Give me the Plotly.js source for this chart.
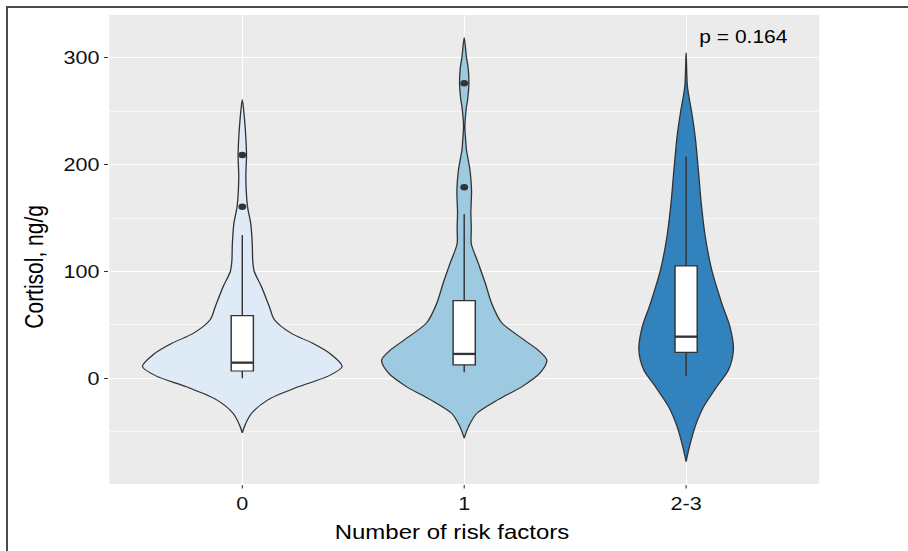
<!DOCTYPE html>
<html>
<head>
<meta charset="utf-8">
<script src="https://cdn.plot.ly/plotly-3.0.1.min.js"></script>
<style>
  html, body { margin: 0; padding: 0; background: #ffffff; overflow: hidden; }
  #wrap { position: relative; width: 908px; height: 551px; overflow: hidden; }
  /* figure is laid out narrower and stretched horizontally to fill the frame */
  #chart { position: absolute; left: 0; top: 0; width: 757px; height: 551px;
           transform: scaleX(1.1995); transform-origin: 0 0; }
  #frame { position: absolute; left: 6px; top: 6px; right: -4px; bottom: -4px;
           border-top: 2px solid #4a4a4a; border-left: 2px solid #4a4a4a;
           pointer-events: none; }
</style>
</head>
<body>
<div id="wrap">
  <div id="chart"></div>
  <div id="frame"></div>
</div>
<script>
// Groups on the x axis
const categories = ['0', '1', '2-3'];
const positions = [0, 1, 2];
const fills = ['#DEEBF7', '#9ECAE1', '#3182BD'];

// Violin outlines: cortisol level and half-width of the density (x units)
const levels0 = [261, 245, 225, 209, 190, 175, 160, 145, 125, 110, 100, 86, 67, 55, 42, 33, 23, 11, 2, -8, -20, -33, -43, -51];
const halfWidth0 = [0, 0.009, 0.016, 0.019, 0.016, 0.018, 0.024, 0.038, 0.045, 0.047, 0.054, 0.086, 0.122, 0.144, 0.221, 0.315, 0.396, 0.45, 0.387, 0.252, 0.117, 0.041, 0.014, 0];

const levels1 = [319, 301, 290, 276, 262, 254, 236, 222, 214, 195, 176, 155, 140, 126, 108, 89, 70, 52, 36, 27, 17, 5, -8, -20, -33, -45, -56];
const halfWidth1 = [0, 0.010, 0.018, 0.021, 0.016, 0.010, 0.003, 0.007, 0.010, 0.026, 0.033, 0.030, 0.032, 0.032, 0.063, 0.095, 0.124, 0.169, 0.270, 0.329, 0.372, 0.342, 0.259, 0.153, 0.056, 0.020, 0];

const levels2 = [305, 273, 248, 226, 195, 164, 133, 101, 70, 48, 27, 8, -8, -27, -45, -64, -78];
const halfWidth2 = [0, 0.006, 0.026, 0.041, 0.055, 0.068, 0.086, 0.116, 0.161, 0.198, 0.213, 0.191, 0.138, 0.078, 0.041, 0.015, 0];

// Box plot statistics per group
const q1 = [6.8, 12.5, 24.3];
const median = [14.6, 22.8, 39.0];
const q3 = [58.6, 72.7, 105.2];
const lowerWhisker = [0.0, 5.6, 2.2];
const upperWhisker = [134.2, 153.9, 207.5];

// Outlying observations
const outlierGroup = [0, 0, 1, 1];
const outlierValue = [209.1, 160.7, 276.3, 178.8];

const pLabel = 'p = 0.164';
const xTitle = 'Number of risk factors';
const yTitle = 'Cortisol, ng/g';

const yRange = [-99.0, 340.2];
const boxWidth = 0.1;
const ink = '#333333';
const font = 'Liberation Sans, Arial, Helvetica, sans-serif';

function violinTrace(center, levels, half, color) {
  const xs = [], ys = [];
  for (let i = 0; i < levels.length; i++) { xs.push(center + half[i]); ys.push(levels[i]); }
  for (let i = levels.length - 1; i >= 0; i--) { xs.push(center - half[i]); ys.push(levels[i]); }
  return {
    type: 'scatter', mode: 'lines', x: xs, y: ys,
    fill: 'toself', fillcolor: color,
    line: { color: ink, width: 1.1, shape: 'spline', smoothing: 0.8 },
    hoverinfo: 'skip', showlegend: false
  };
}

const traces = [
  violinTrace(positions[0], levels0, halfWidth0, fills[0]),
  violinTrace(positions[1], levels1, halfWidth1, fills[1]),
  violinTrace(positions[2], levels2, halfWidth2, fills[2]),
  // boxes sit on an overlaid axis so they draw above the filled violins
  {
    type: 'box', x: positions, xaxis: 'x', yaxis: 'y2',
    q1: q1, median: median, q3: q3,
    lowerfence: lowerWhisker, upperfence: upperWhisker,
    width: boxWidth, whiskerwidth: 0, boxpoints: false,
    fillcolor: '#ffffff', line: { color: ink, width: 1.2 },
    hoverinfo: 'skip', showlegend: false
  }
];

// heavier median bar across each box
const medX = [], medY = [];
positions.forEach((c, i) => {
  medX.push(c - boxWidth / 2, c + boxWidth / 2, null);
  medY.push(median[i], median[i], null);
});
traces.push({
  type: 'scatter', mode: 'lines', x: medX, y: medY, xaxis: 'x', yaxis: 'y2',
  line: { color: ink, width: 2.3 }, hoverinfo: 'skip', showlegend: false
});

traces.push({
  type: 'scatter', mode: 'markers', xaxis: 'x', yaxis: 'y2',
  x: outlierGroup.map(g => positions[g]), y: outlierValue,
  marker: { color: ink, size: 6.5 }, hoverinfo: 'skip', showlegend: false
});

const layout = {
  width: 757, height: 551,
  margin: { l: 91, r: 74.2, t: 15, b: 67 },
  paper_bgcolor: '#ffffff',
  plot_bgcolor: '#EBEBEB',
  showlegend: false,
  font: { family: font, color: '#000000' },
  xaxis: {
    range: [-0.6, 2.6],
    tickmode: 'array', tickvals: positions, ticktext: categories,
    showgrid: true, gridcolor: '#ffffff', gridwidth: 1,
    zeroline: false, showline: false,
    ticks: 'outside', ticklen: 3.5, tickwidth: 0.9, tickcolor: ink,
    tickfont: { family: font, size: 18, color: '#111111' }
  },
  yaxis: {
    range: yRange,
    tick0: 0, dtick: 100,
    showgrid: true, gridcolor: '#ffffff', gridwidth: 1.1,
    minor: { tick0: 0, dtick: 50, showgrid: true, gridcolor: '#ffffff', gridwidth: 0.55, ticks: '' },
    zeroline: false, showline: false,
    ticks: 'outside', ticklen: 3.5, tickwidth: 1, tickcolor: ink,
    tickfont: { family: font, size: 18, color: '#111111' }
  },
  yaxis2: {
    overlaying: 'y', range: yRange, visible: false,
    showgrid: false, zeroline: false, showticklabels: false
  },
  annotations: [
    {
      x: 2.26, y: 320, xref: 'x', yref: 'y',
      text: pLabel, showarrow: false, xanchor: 'center', yanchor: 'middle',
      font: { family: font, size: 17.5, color: '#000000' }
    },
    // axis titles
    {
      x: 0.4835, y: -0.1025, xref: 'paper', yref: 'paper',
      text: xTitle, showarrow: false, xanchor: 'center', yanchor: 'middle',
      font: { family: font, size: 20, color: '#000000' }
    },
    {
      x: -0.106, y: 0.4638, xref: 'paper', yref: 'paper', textangle: -90,
      text: yTitle, showarrow: false, xanchor: 'center', yanchor: 'middle',
      font: { family: font, size: 21, color: '#000000' }
    }
  ]
};

Plotly.newPlot('chart', traces, layout, { staticPlot: true, displayModeBar: false });
</script>
</body>
</html>
